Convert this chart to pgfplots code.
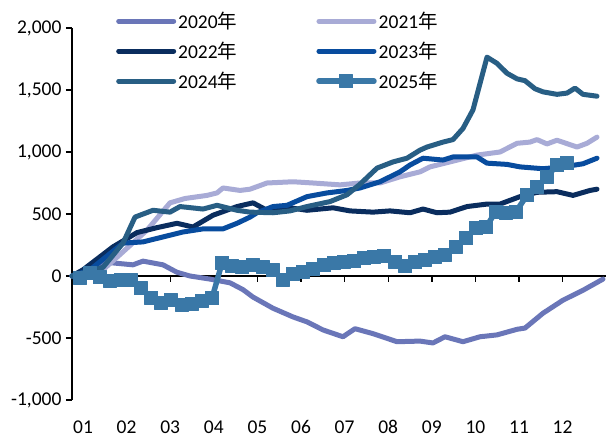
\documentclass[border=0pt]{standalone}
\usepackage{pgfplots}
\pgfplotsset{compat=1.18}
\usepackage{fontspec}
\setmainfont{Carlito}
\newfontfamily\cjk{Noto Sans CJK SC}
\definecolor{cA}{RGB}{106,118,184}
\definecolor{cB}{RGB}{168,171,214}
\definecolor{cC}{RGB}{10,45,94}
\definecolor{cD}{RGB}{8,76,158}
\definecolor{cE}{RGB}{40,94,132}
\definecolor{cF}{RGB}{58,120,167}
\begin{document}
\begin{tikzpicture}
\begin{axis}[
  scale only axis, width=534pt, height=372pt,
  xmin=0, xmax=534, ymin=-1000, ymax=2000,
  axis x line=middle, axis y line=left,
  axis line style={-, black, line width=1.6pt},
  clip=false,
  font=\fontsize{19.5}{22}\selectfont,
  xtick={11,54.6,98.2,141.8,185.4,229,272.6,316.2,359.8,403.4,447,490.6},
  xticklabels={01,02,03,04,05,06,07,08,09,10,11,12},
  xticklabel style={anchor=north, yshift=-135pt},
  ytick={-1000,-500,0,500,1000,1500,2000},
  yticklabels={{-1,000},{-500},{0},{500},{1,000},{1,500},{2,000}},
  tick align=outside,
  major tick length=6pt,
  tick style={black, line width=1.4pt},
  yticklabel style={anchor=east, xshift=-1pt},
  every axis plot/.append style={line width=5pt, line join=round, line cap=round},
  legend columns=2,
  legend style={at={(axis description cs:0,1)}, anchor=north west, xshift=44pt, yshift=18pt,
    draw=none, fill=none, inner sep=0pt, row sep=8pt,
    nodes={inner sep=2pt, anchor=west},
    /tikz/every even column/.append style={column sep=77pt}},
  legend image code/.code={\draw[mark repeat=2, mark phase=2] plot coordinates {(0pt,0pt) (27.5pt,0pt) (55pt,0pt)};},
]
\addplot[cA, no marks] coordinates {
(0,0) (18,60) (31,113) (48,100) (61,90) (71,120) (91,90) (105,30) (118,0) (138,-25)
(158,-55) (171,-110) (181,-170) (201,-260) (221,-330) (235,-370) (251,-435) (271,-490)
(283,-425) (301,-465) (325,-530) (348,-525) (361,-540) (373,-490) (391,-530) (408,-490)
(425,-475) (445,-430) (453,-420) (471,-300) (491,-195) (511,-115) (531,-25)};
\addlegendentry{2020{\cjk 年}}
\addplot[cB, no marks] coordinates {
(0,0) (31,50) (51,195) (75,370) (98,590) (113,625) (135,650) (145,670) (151,710) (168,690)
(178,700) (195,750) (221,760) (241,750) (268,735) (288,750) (308,750) (328,800) (348,840)
(358,880) (378,920) (405,975) (428,1000) (445,1070) (458,1080) (465,1100) (475,1065)
(485,1095) (505,1040) (515,1070) (525,1120)};
\addlegendentry{2021{\cjk 年}}
\addplot[cC, no marks] coordinates {
(0,0) (11,50) (41,235) (65,350) (85,390) (105,425) (121,395) (141,490) (165,560) (181,590)
(195,530) (218,550) (235,530) (261,550) (278,525) (301,515) (318,525) (338,510) (351,540)
(365,510) (378,515) (395,560) (415,580) (428,580) (438,610) (448,640) (465,675) (485,680)
(501,650) (518,690) (525,700)};
\addlegendentry{2022{\cjk 年}}
\addplot[cD, no marks] coordinates {
(0,0) (18,50) (51,265) (71,275) (91,315) (111,355) (131,380) (151,380) (165,425) (178,475)
(185,510) (201,560) (215,570) (235,640) (255,670) (275,690) (288,710) (308,760) (328,840)
(338,895) (351,950) (371,935) (381,960) (405,960) (415,910) (435,900) (448,880) (471,865)
(491,880) (511,905) (525,950)};
\addlegendentry{2023{\cjk 年}}
\addplot[cE, no marks] coordinates {
(0,0) (31,70) (51,265) (63,475) (81,530) (98,515) (108,560) (131,540) (145,570) (165,530)
(178,515) (201,510) (218,525) (235,560) (258,600) (275,655) (288,740) (305,870) (321,920)
(335,950) (348,1015) (355,1040) (371,1080) (381,1100) (391,1190) (401,1340) (415,1765)
(425,1715) (435,1635) (445,1590) (453,1575) (463,1510) (471,1485) (485,1465) (495,1475)
(503,1515) (511,1465) (525,1450)};
\addlegendentry{2024{\cjk 年}}
\addplot[cF, line width=5.5pt, mark=square*, mark size=6.5pt, mark options={solid, line width=1pt}] coordinates {
(8,-15) (18,25) (28,-10) (38,-40) (49,-35) (59,-30) (69,-100) (79,-175) (89,-215) (99,-195)
(110,-230) (120,-225) (130,-200) (140,-180) (150,105) (160,80) (170,70) (181,85) (191,70)
(201,45) (211,-30) (221,20) (231,35) (241,55) (252,85) (262,105) (272,115) (282,120)
(292,145) (302,155) (312,165) (323,115) (333,80) (343,110) (353,130) (363,155) (373,170)
(384,235) (394,305) (404,385) (414,395) (424,520) (434,510) (444,520) (455,650) (465,720)
(475,800) (485,895) (495,910)};
\addlegendentry{2025{\cjk 年}}
\end{axis}
\pgfresetboundingbox
\path[use as bounding box] (-72pt,-39pt) rectangle ++(606pt,439pt);
\end{tikzpicture}
\end{document}
